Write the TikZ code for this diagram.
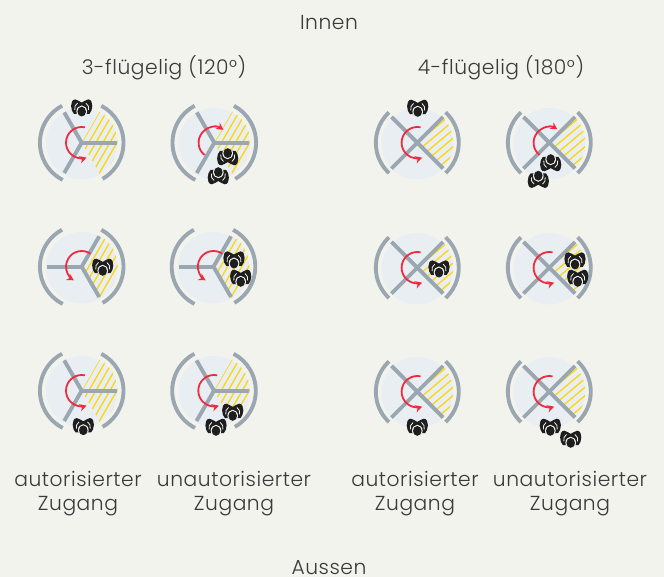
\documentclass[tikz,border=0pt]{standalone}
\usepackage{fontspec}
\setmainfont{Poppins Light}[LetterSpace=2.7]
\definecolor{bgc}{HTML}{F3F3EE}
\definecolor{wallc}{HTML}{9AA7B1}
\definecolor{discc}{HTML}{E9EEF3}
\definecolor{hatchc}{HTML}{FBD712}
\definecolor{redc}{HTML}{EE2C40}
\definecolor{txtc}{HTML}{3A3A3A}
\definecolor{persc}{HTML}{1E1E1E}
\usetikzlibrary{arrows.meta,calc}
\tikzset{
  x=0.75pt,y=0.75pt,
  wall/.style={draw=wallc,line width=2.9pt},
  wing/.style={draw=wallc,line width=2.9pt},
  hatchl/.style={draw=hatchc,line width=1pt},
  turn/.style={draw=redc,line width=1.35pt,-{Stealth[length=5.2pt,width=5.6pt]}},
  lab/.style={text=txtc,font=\fontsize{15.2pt}{18pt}\selectfont,align=center,inner sep=0pt},
}
\newcommand{\person}[3]{% x, y, rotation
  \begin{scope}[shift={(#1,577-#2)},rotate=#3]
    \begin{scope}
      \clip (0,5.4) .. controls (-2,5.8) and (-3.8,8.6) .. (-6.5,8.6) .. controls (-9.5,8.6) and (-10.8,5) .. (-10.6,2) .. controls (-10.4,-1.5) and (-9.5,-4) .. (-7.8,-5.8) -- (7.8,-5.8) .. controls (9.5,-4) and (10.4,-1.5) .. (10.6,2) .. controls (10.8,5) and (9.5,8.6) .. (6.5,8.6) .. controls (3.8,8.6) and (2,5.8) .. (0,5.4) -- cycle;
      \fill[persc] (-12,-7) rectangle (12,10);
      \fill[bgc] (0,-3.4) circle[x radius=5.3,y radius=5.9];
      \draw[bgc,line width=0.6pt] (-6.9,-2) .. controls (-7.6,0.8) and (-6.4,3.2) .. (-4.2,4.8);
      \draw[bgc,line width=0.6pt] (6.9,-2) .. controls (7.6,0.8) and (6.4,3.2) .. (4.2,4.8);
    \end{scope}
    \fill[persc] (0,-3.6) circle[x radius=4.3,y radius=4.9];
  \end{scope}}
\newcommand{\hatchfield}[3]{% half angle, hatch slope, spacing
  \begin{scope}
    \clip (0,0) -- (#1:36) arc[start angle=#1,end angle=-#1,radius=36] -- cycle;
    \foreach \k in {-8,...,8} {
      \draw[hatchl] ($(#2:-60)+(#2+90:\k*#3)$) -- ($(#2:60)+(#2+90:\k*#3)$);
    }
  \end{scope}}
\newcommand{\tripod}[5]{%
  \begin{scope}[shift={(#1,577-#2)}]
    \fill[discc] (0,-1) circle[radius=35.7];
    \hatchfield{60}{60}{6.1}
    \draw[wall] (118:41.8) arc[start angle=118,end angle=243,radius=41.8];
    \draw[wall] (-60:41.8) arc[start angle=-60,end angle=62,radius=41.8];
    \foreach \a in {0,120,240} \draw[wing] (0,0) -- (#3+\a:35);
    \draw[turn] (#4:15.7) arc[start angle=#4,end angle=#5,radius=15.7];
  \end{scope}}
\newcommand{\cross}[5]{%
  \begin{scope}[shift={(#1,577-#2)}]
    \fill[discc] (0,-1) circle[radius=35.7];
    \hatchfield{45}{40}{6.5}
    \draw[wall] (133:41.5) arc[start angle=133,end angle=227,radius=41.5];
    \draw[wall] (-47:41.5) arc[start angle=-47,end angle=47,radius=41.5];
    \foreach \a in {45,135} \draw[wing] (\a:36.5) -- (\a+180:36.5);
    \draw[turn] (#4:15.7) arc[start angle=#4,end angle=#5,radius=15.7];
  \end{scope}}
\begin{document}
\begin{tikzpicture}
\useasboundingbox[fill=bgc] (0,0) rectangle (664,577);
\node[lab] (innen) at (329,554) {Innen};
\node[lab] (aussen) at (329,9.5) {Aussen};
\node[lab] (drei) at (164,509) {3-flügelig (120°)};
\node[lab] (vier) at (501,509) {4-flügelig (180°)};
\node[lab] (a1) at (78,83.5) {autorisierter\\Zugang};
\node[lab] (u1) at (234,83.5) {unautorisierter\\Zugang};
\node[lab] (a2) at (415,83.5) {autorisierter\\Zugang};
\node[lab] (u2) at (570,83.5) {unautorisierter\\Zugang};

\tripod{81.7}{142.7}{0}{78}{288}
\tripod{214.3}{142.7}{0}{232}{55}
\tripod{81.7}{266.7}{60}{56}{240}
\tripod{213.5}{266.7}{60}{56}{240}
\tripod{81.7}{390.7}{0}{78}{288}
\tripod{214}{390.7}{0}{78}{288}
\cross{417.3}{142.7}{0}{78}{288}
\cross{549.3}{142.7}{0}{232}{59}
\cross{417.3}{267.7}{0}{78}{288}
\cross{549.3}{267.7}{0}{78}{288}
\cross{417.3}{391.7}{0}{78}{288}
\cross{549.3}{391.7}{0}{78}{288}

\person{81.7}{108}{0}
\person{227.7}{156.7}{180}
\person{218.3}{175.7}{180}
\person{102.7}{267.3}{0}
\person{234}{260}{0}
\person{240.7}{278.3}{0}
\person{83.3}{426.7}{0}
\person{232.7}{412.3}{0}
\person{216}{427.3}{0}
\person{417.7}{108.3}{0}
\person{550.7}{162.7}{180}
\person{538.3}{179.3}{180}
\person{439}{269}{0}
\person{575}{261}{0}
\person{577.7}{278.3}{0}
\person{417.3}{427.3}{0}
\person{550.3}{427.3}{0}
\person{570.7}{439.3}{0}
\end{tikzpicture}
\end{document}
